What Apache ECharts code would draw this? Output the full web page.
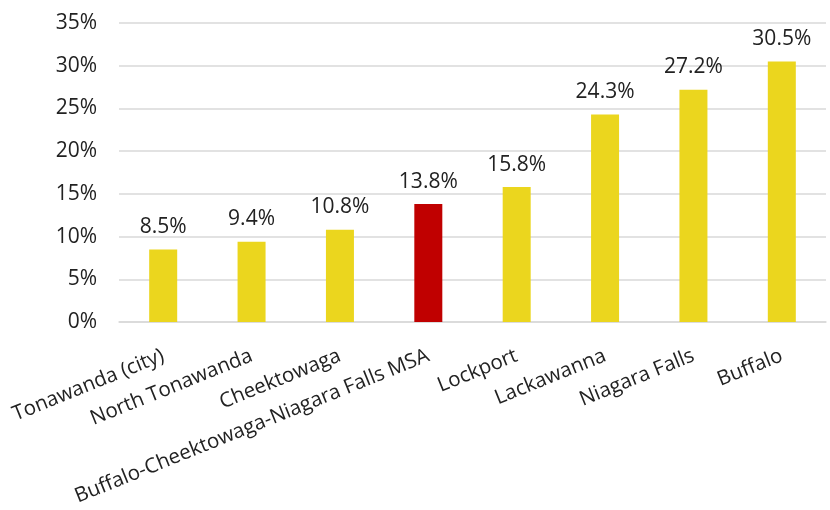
<!DOCTYPE html>
<html><head><meta charset="utf-8">
<script src="https://cdn.jsdelivr.net/npm/echarts@6/dist/echarts.min.js"></script>
<style>html,body{margin:0;padding:0;background:#fff}#c{width:830px;height:510px}</style>
</head><body><div id="c"></div>
<script>
const categories = ["Tonawanda (city)","North Tonawanda","Cheektowaga","Buffalo-Cheektowaga-Niagara Falls MSA","Lockport","Lackawanna","Niagara Falls","Buffalo"];
const values = [8.5, 9.4, 10.8, 13.8, 15.8, 24.3, 27.2, 30.5];
const highlight = "Buffalo-Cheektowaga-Niagara Falls MSA";
const yTicks = [0,5,10,15,20,25,30,35];
const font = "'Open Sans', sans-serif";
const chart = echarts.init(document.getElementById('c'));
chart.setOption({
  animation:false,
  grid:{left:119,right:4,top:23,bottom:188,containLabel:false},
  xAxis:{type:'category',data:categories,
    axisLine:{lineStyle:{color:'#d9d9d9',width:1.5}},axisTick:{show:false},
    axisLabel:{rotate:22,interval:0,fontSize:20.5,color:'#222',fontFamily:font,margin:33}},
  yAxis:{type:'value',min:0,max:35,interval:5,
    axisLine:{show:false},axisTick:{show:false},
    splitLine:{lineStyle:{color:'#d9d9d9',width:1.5}},
    axisLabel:{formatter:v=>v+'%',fontSize:21,color:'#222',fontFamily:font,margin:22}},
  series:[{type:'bar',barWidth:28,
    data:values.map((v,i)=>({value:v,itemStyle:{color:categories[i]===highlight?'#C00000':'#EBD61E'}})),
    label:{show:true,position:'top',distance:12,formatter:p=>p.value.toFixed(1)+'%',fontSize:21,color:'#222',fontFamily:font}}]
});
</script></body></html>
